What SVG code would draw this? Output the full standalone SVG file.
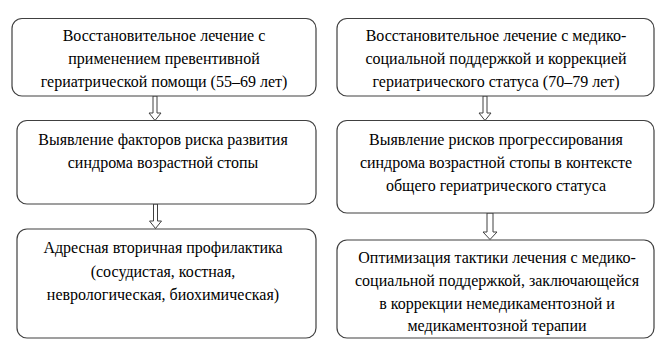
<svg xmlns="http://www.w3.org/2000/svg" width="667" height="344" viewBox="0 0 667 344">
<style>
.box{fill:#fff;stroke:#404040;stroke-width:1.2}
.arr{fill:#fff;stroke:#404040;stroke-width:1}
text{font-family:"Liberation Serif","Times New Roman",serif;font-size:16px;fill:#000;text-anchor:middle}
</style>
<rect width="667" height="344" fill="#fff"/>
<g id="connectors">
<path class="arr" d="M153,96 H157 V113 H161 L155,120.5 L149,113 H153 Z"/>
<path class="arr" d="M483,96 H487 V113 H491 L485,120.5 L479,113 H483 Z"/>
<path class="arr" d="M153.5,204 H157.5 V221 H161.5 L155.5,228.5 L149.5,221 H153.5 Z"/>
<path class="arr" d="M487,213 H493 V232 H497 L490,239.5 L483,232 H487 Z"/>
</g>
<g id="node-l1">
<rect class="box" x="12" y="18.5" width="304" height="77.5" rx="10"/>
<text x="164" y="41">Восстановительное лечение с</text>
<text x="164" y="64">применением превентивной</text>
<text x="164" y="87">гериатрической помощи (55–69 лет)</text>
</g>
<g id="node-r1">
<rect class="box" x="337" y="18.5" width="317" height="77.5" rx="10"/>
<text x="496" y="41">Восстановительное лечение с медико-</text>
<text x="496" y="64">социальной поддержкой и коррекцией</text>
<text x="496" y="87">гериатрического статуса (70–79 лет)</text>
</g>
<g id="node-l2">
<rect class="box" x="17" y="120.5" width="299" height="83.5" rx="10"/>
<text x="163" y="145">Выявление факторов риска развития</text>
<text x="163" y="168">синдрома возрастной стопы</text>
</g>
<g id="node-r2">
<rect class="box" x="337" y="120.5" width="317" height="92.5" rx="10"/>
<text x="496" y="145">Выявление рисков прогрессирования</text>
<text x="496" y="168">синдрома возрастной стопы в контексте</text>
<text x="496" y="191">общего гериатрического статуса</text>
</g>
<g id="node-l3">
<rect class="box" x="17" y="229" width="299" height="109" rx="10"/>
<text x="163" y="253">Адресная вторичная профилактика</text>
<text x="163" y="277">(сосудистая, костная,</text>
<text x="163" y="300">неврологическая, биохимическая)</text>
</g>
<g id="node-r3">
<rect class="box" x="337" y="240" width="317" height="98" rx="10"/>
<text x="497" y="263">Оптимизация тактики лечения с медико-</text>
<text x="497" y="286">социальной поддержкой, заключающейся</text>
<text x="497" y="309">в коррекции немедикаментозной и</text>
<text x="497" y="331">медикаментозной терапии</text>
</g>
</svg>
